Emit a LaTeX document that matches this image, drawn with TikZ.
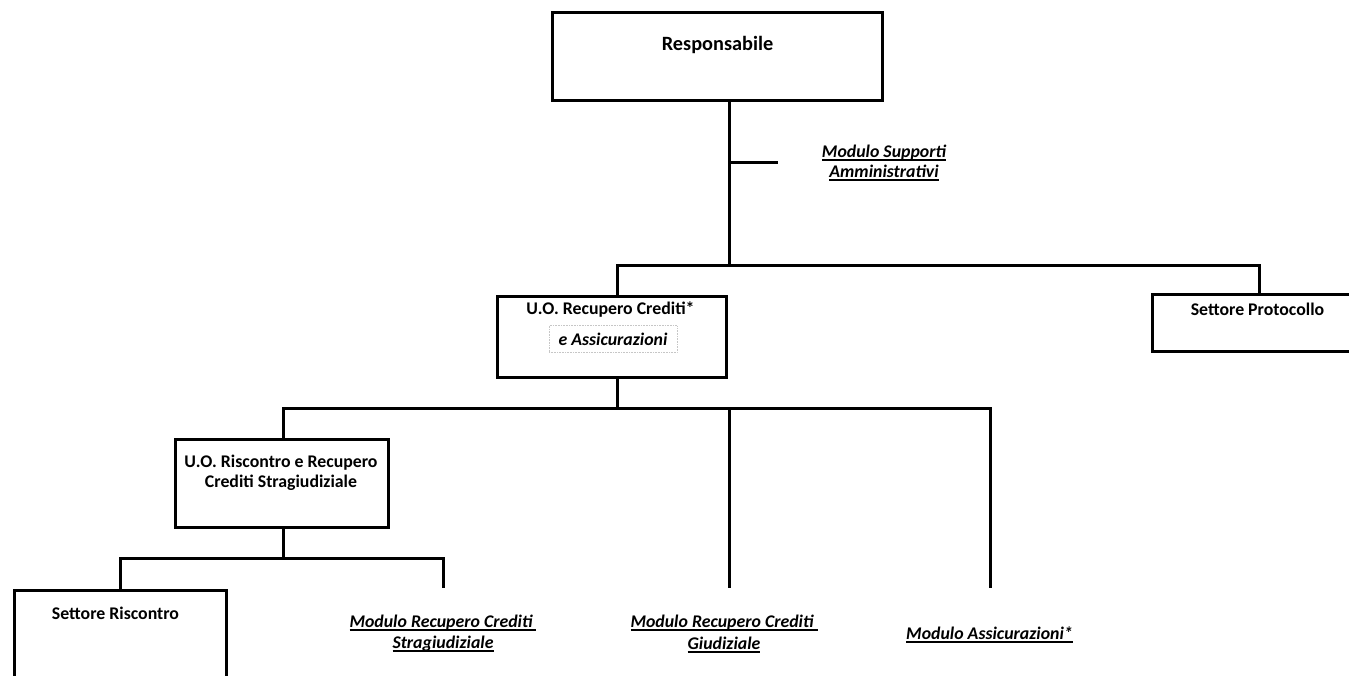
\documentclass[tikz,border=0pt]{standalone}
\usepackage{fontspec}
\setmainfont{Carlito}
\newsavebox\ulbox
\newcommand\myul[1]{\sbox\ulbox{#1}\rlap{\rule[-3.6pt]{\wd\ulbox}{1.8pt}}\usebox\ulbox}
\tikzset{
  orgbox/.style={draw, line width=3pt, inner sep=0pt},
  conn/.style={line width=3pt},
  txt/.style={inner sep=0pt, anchor=base, font=\fontsize{17.8}{20}\selectfont\bfseries},
  mtxt/.style={txt, align=center},
  bigtxt/.style={txt, font=\fontsize{20.3}{24}\selectfont\bfseries},
  itxt/.style={txt, align=center, font=\fontsize{17.8}{21.5}\selectfont\bfseries\itshape},
  dotbox/.style={draw=gray!45, densely dotted, line width=0.6pt, inner sep=0pt, font=\fontsize{17.8}{20}\selectfont\bfseries\itshape}
}
\begin{document}
\begin{tikzpicture}[x=1pt,y=-1pt]
\path[use as bounding box] (0,0) rectangle (1349,675);
\clip (0,0) rectangle (1349,675);

% boxes
\node[orgbox, minimum width=330pt, minimum height=88pt] (resp) at (717,56) {};
\node[orgbox, minimum width=229pt, minimum height=81pt] (uo1) at (612,337) {};
\node[orgbox, minimum width=218pt, minimum height=57pt] (prot) at (1261.5,323) {};
\node[orgbox, minimum width=213pt, minimum height=88pt] (uo2) at (282,483.5) {};
\node[orgbox, minimum width=212pt, minimum height=110pt] (ris) at (120.5,645.5) {};

% texts (multi-line nodes anchored at the baseline of their last line)
\node[bigtxt] (tresp) at (717.5,50) {Responsabile};
\node[itxt, font=\fontsize{17.8}{19.5}\selectfont\bfseries\itshape] (tsup) at (884,177) {\myul{Modulo Supporti}\\\myul{Amministrativi}};
\node[txt] (tuo1) at (610.5,314.5) {U.O. Recupero Crediti*};
\node[dotbox, minimum width=128pt, minimum height=27pt] (tuo1b) at (613,339) {e Assicurazioni};
\node[txt] (tprot) at (1257.5,315) {Settore Protocollo};
\node[mtxt] (tuo2) at (281,487) {U.O. Riscontro e Recupero\\Crediti Stragiudiziale};
\node[txt] (tris) at (115.5,619) {Settore Riscontro};
\node[itxt] (tstrag) at (443,648.5) {\myul{Modulo Recupero Crediti\ }\\\myul{Stragiudiziale}};
\node[itxt] (tgiud) at (724,649) {\myul{Modulo Recupero Crediti\ }\\\myul{Giudiziale}};
\node[itxt] (tass) at (989.5,639) {\myul{Modulo Assicurazioni*}};

% connectors
\coordinate (j1) at (729,265);
\draw[conn] (resp.south -| j1) -- (j1);
\coordinate (sup) at (778,162);
\draw[conn] (sup -| j1) -- (sup);
\coordinate (h1L) at (617,265);
\coordinate (h1R) at (1259,265);
\draw[conn] (uo1.north -| h1L) -- (h1L) -- (h1R) -- (prot.north -| h1R);
\coordinate (j2) at (617,408);
\draw[conn] (uo1.south -| j2) -- (j2);
\coordinate (h2L) at (283,408);
\coordinate (h2R) at (990,408);
\coordinate (e729) at (729,588);
\coordinate (e990) at (990,588);
\draw[conn] (uo2.north -| h2L) -- (h2L) -- (h2R) -- (e990);
\draw[conn] (e729 |- h2L) -- (e729);
\coordinate (j3) at (283,558);
\draw[conn] (uo2.south -| j3) -- (j3);
\coordinate (h3L) at (120,558);
\coordinate (h3R) at (443,558);
\coordinate (e443) at (443,588);
\draw[conn] (ris.north -| h3L) -- (h3L) -- (h3R) -- (e443);
\end{tikzpicture}
\end{document}
